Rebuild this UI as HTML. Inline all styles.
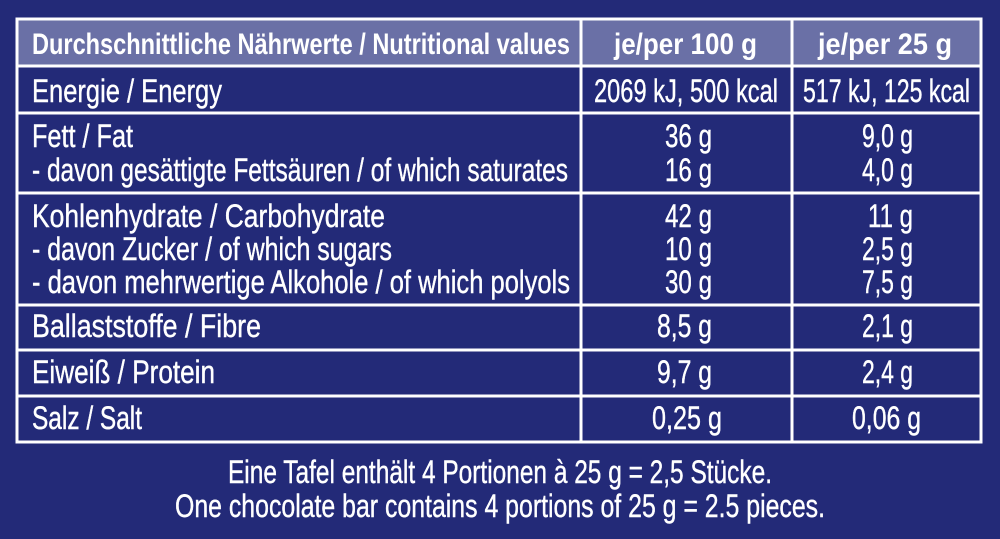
<!DOCTYPE html>
<html><head><meta charset="utf-8"><style>
html,body{margin:0;padding:0;background:#232a78;}
svg{display:block}
text{font-family:"Liberation Sans",sans-serif;fill:#fff;font-size:32px;stroke:#fff;stroke-width:0.4px}
.b{font-weight:bold;font-size:30px;stroke-width:0}
</style></head><body>
<svg width="1000" height="539" viewBox="0 0 1000 539">
<rect width="1000" height="539" fill="#232a78"/>
<rect x="17" y="19" width="964" height="47" fill="#6a70a6"/>
<g stroke="#fff" stroke-width="3" fill="none">
<rect x="17" y="19" width="964" height="423"/>
<line x1="17" y1="66" x2="981" y2="66"/>
<line x1="17" y1="113" x2="981" y2="113"/>
<line x1="17" y1="193" x2="981" y2="193"/>
<line x1="17" y1="305" x2="981" y2="305"/>
<line x1="17" y1="350" x2="981" y2="350"/>
<line x1="17" y1="396" x2="981" y2="396"/>
<line x1="581" y1="19" x2="581" y2="442"/>
<line x1="792" y1="19" x2="792" y2="442"/>
</g>
<g>
<text class="b" x="32" y="54" textLength="538" lengthAdjust="spacingAndGlyphs">Durchschnittliche Nährwerte / Nutritional values</text>
<text class="b" x="614" y="54" textLength="143" lengthAdjust="spacingAndGlyphs">je/per 100 g</text>
<text class="b" x="818" y="54" textLength="134" lengthAdjust="spacingAndGlyphs">je/per 25 g</text>

<text x="32" y="102" textLength="190" lengthAdjust="spacingAndGlyphs">Energie / Energy</text>
<text x="594" y="102" textLength="184" lengthAdjust="spacingAndGlyphs">2069 kJ, 500 kcal</text>
<text x="803" y="102" textLength="167" lengthAdjust="spacingAndGlyphs">517 kJ, 125 kcal</text>

<text x="32" y="147" textLength="101" lengthAdjust="spacingAndGlyphs">Fett / Fat</text>
<text x="665" y="147" textLength="47" lengthAdjust="spacingAndGlyphs">36 g</text>
<text x="862" y="147" textLength="51" lengthAdjust="spacingAndGlyphs">9,0 g</text>
<text x="32" y="181" textLength="536" lengthAdjust="spacingAndGlyphs">- davon gesättigte Fettsäuren / of which saturates</text>
<text x="665" y="181" textLength="47" lengthAdjust="spacingAndGlyphs">16 g</text>
<text x="862" y="181" textLength="51" lengthAdjust="spacingAndGlyphs">4,0 g</text>

<text x="32" y="227" textLength="353" lengthAdjust="spacingAndGlyphs">Kohlenhydrate / Carbohydrate</text>
<text x="665" y="227" textLength="47" lengthAdjust="spacingAndGlyphs">42 g</text>
<text x="868" y="227" textLength="45" lengthAdjust="spacingAndGlyphs">11 g</text>
<text x="32" y="260" textLength="360" lengthAdjust="spacingAndGlyphs">- davon Zucker / of which sugars</text>
<text x="665" y="260" textLength="47" lengthAdjust="spacingAndGlyphs">10 g</text>
<text x="862" y="260" textLength="51" lengthAdjust="spacingAndGlyphs">2,5 g</text>
<text x="32" y="293" textLength="538" lengthAdjust="spacingAndGlyphs">- davon mehrwertige Alkohole / of which polyols</text>
<text x="665" y="293" textLength="47" lengthAdjust="spacingAndGlyphs">30 g</text>
<text x="862" y="293" textLength="51" lengthAdjust="spacingAndGlyphs">7,5 g</text>

<text x="32" y="337" textLength="229" lengthAdjust="spacingAndGlyphs">Ballaststoffe / Fibre</text>
<text x="657" y="337" textLength="55" lengthAdjust="spacingAndGlyphs">8,5 g</text>
<text x="862" y="337" textLength="51" lengthAdjust="spacingAndGlyphs">2,1 g</text>

<text x="32" y="383" textLength="183" lengthAdjust="spacingAndGlyphs">Eiweiß / Protein</text>
<text x="657" y="383" textLength="55" lengthAdjust="spacingAndGlyphs">9,7 g</text>
<text x="862" y="383" textLength="51" lengthAdjust="spacingAndGlyphs">2,4 g</text>

<text x="32" y="429" textLength="110" lengthAdjust="spacingAndGlyphs">Salz / Salt</text>
<text x="652" y="429" textLength="70" lengthAdjust="spacingAndGlyphs">0,25 g</text>
<text x="852" y="429" textLength="69" lengthAdjust="spacingAndGlyphs">0,06 g</text>

<text x="228" y="483" textLength="544" lengthAdjust="spacingAndGlyphs">Eine Tafel enthält 4 Portionen à 25 g = 2,5 Stücke.</text>
<text x="175" y="517" textLength="650" lengthAdjust="spacingAndGlyphs">One chocolate bar contains 4 portions of 25 g = 2.5 pieces.</text>
</g>
</svg>
</body></html>
